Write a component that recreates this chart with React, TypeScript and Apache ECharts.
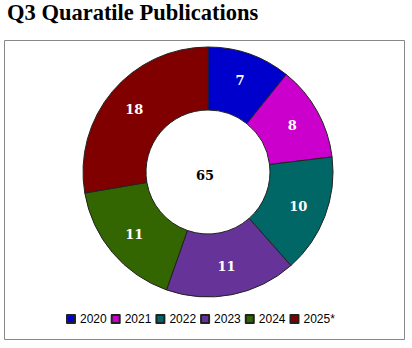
import React, { useEffect, useRef } from "react";
import * as echarts from "echarts";

const titleText = "Q3 Quaratile Publications";
const categories = ["2020", "2021", "2022", "2023", "2024", "2025*"];
const values = [7, 8, 10, 11, 11, 18];
const colors = ["#0000CC", "#CC00CC", "#006666", "#663399", "#336600", "#800000"];

export default function App() {
  const ref = useRef<HTMLDivElement>(null);
  useEffect(() => {
    if (!ref.current) return;
    const chart = echarts.init(ref.current, null, { renderer: "svg" });
    const total = values.reduce((a, b) => a + b, 0);
    chart.setOption({
      animation: false,
      backgroundColor: "#ffffff",
      title: {
        text: titleText,
        left: 7,
        top: 1,
        padding: 0,
        textStyle: {
          fontFamily: "Liberation Serif",
          fontWeight: "bold",
          fontSize: 22.5,
          color: "#000000",
        },
      },
      graphic: [
        {
          type: "rect",
          shape: { x: 4.5, y: 40.5, width: 400, height: 299 },
          style: { fill: "none", stroke: "#888888", lineWidth: 1 },
          z: 0,
        },
        {
          type: "text",
          x: 205,
          y: 175,
          style: {
            text: String(total),
            fontFamily: "DejaVu Serif",
            fontWeight: "bold",
            fontSize: 13,
            fill: "#000000",
            align: "center",
            verticalAlign: "middle",
          },
          z: 10,
        },
      ],
      legend: {
        data: categories,
        left: 66,
        top: 313,
        padding: 0,
        itemWidth: 8,
        itemHeight: 8,
        itemGap: 4,
        icon: "rect",
        textStyle: {
          fontFamily: "Liberation Sans",
          fontSize: 12,
          color: "#000000",
        },
      },
      series: [
        {
          type: "pie",
          center: [208, 172],
          radius: [62, 125],
          startAngle: 90,
          clockwise: true,
          avoidLabelOverlap: false,
          itemStyle: { borderColor: "#222222", borderWidth: 1 },
          label: {
            show: true,
            position: "inside",
            formatter: "{c}",
            fontFamily: "DejaVu Serif",
            fontWeight: "bold",
            fontSize: 13,
            color: "#ffffff",
          },
          labelLine: { show: false },
          emphasis: { disabled: true },
          data: categories.map((c, i) => ({
            name: c,
            value: values[i],
            itemStyle: { color: colors[i] },
          })),
        },
      ],
    });
    return () => chart.dispose();
  }, []);
  return (
    <div
      ref={ref}
      style={{ position: "fixed", left: 0, top: 0, width: 412, height: 348 }}
    />
  );
}
